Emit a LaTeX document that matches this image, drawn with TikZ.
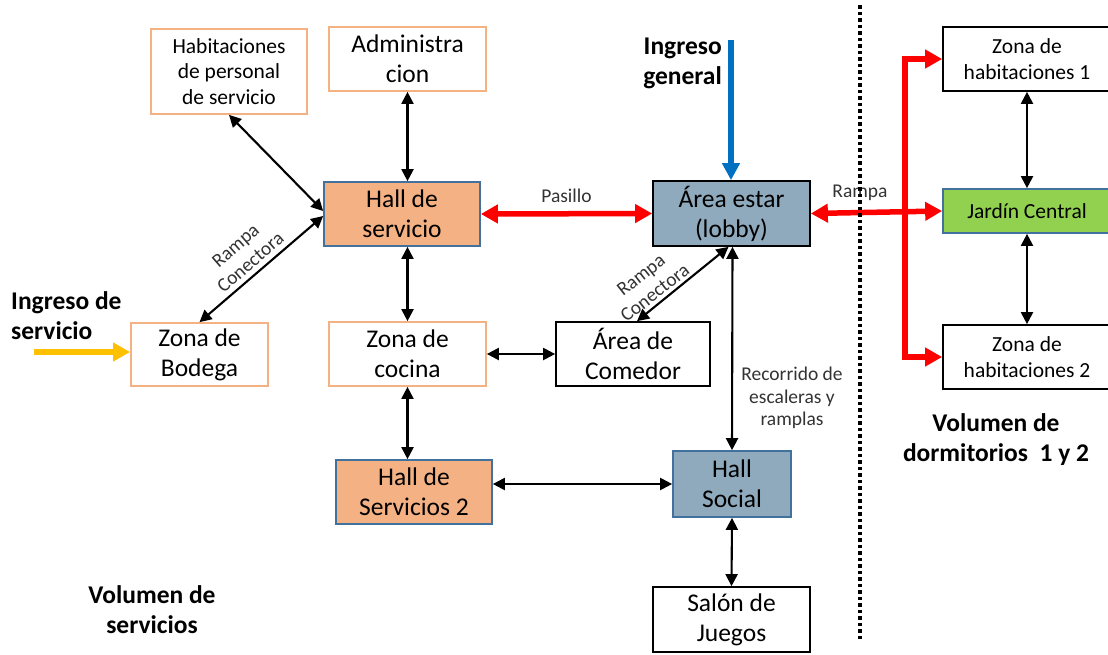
\documentclass[tikz,border=0pt]{standalone}
\usepackage{fontspec}
\setmainfont{Carlito}
\usetikzlibrary{arrows.meta,calc}
\definecolor{orangeb}{HTML}{F4B183}
\definecolor{orangef}{HTML}{F4B183}
\definecolor{blueb}{HTML}{41719C}
\definecolor{grayblue}{HTML}{8FAABD}
\definecolor{greenf}{HTML}{92D050}
\definecolor{arrblue}{HTML}{0070C0}
\definecolor{arryellow}{HTML}{FFC000}
\definecolor{lbl}{HTML}{333333}
\tikzset{
  bx/.style={draw, line width=1.7pt, inner sep=0pt, align=center, text=black},
  big/.style={font=\fontsize{25.5}{30}\selectfont},
  mid/.style={font=\fontsize{21.5}{25.5}\selectfont},
  orgbox/.style={bx, draw=orangeb, fill=white},
  blkbox/.style={bx, draw=black, fill=white},
  hallbox/.style={bx, draw=blueb, fill=orangef},
  lobbybox/.style={bx, draw=black, fill=grayblue},
  socialbox/.style={bx, draw=blueb, fill=grayblue},
  gardenbox/.style={bx, draw=blueb, fill=greenf},
  conn/.style={line width=2.1pt, {Triangle[length=12pt,width=12pt]}-{Triangle[length=12pt,width=12pt]}},
  redc/.style={draw=red, line width=5.5pt, line join=miter, {Triangle[length=17pt,width=18pt]}-{Triangle[length=17pt,width=18pt]}},
  bolds/.style={font=\fontsize{25.5}{30}\selectfont\bfseries, text=black, inner sep=0pt},
  smalllbl/.style={font=\fontsize{19.5}{22.5}\selectfont, text=lbl, inner sep=0pt, align=center}
}
\begin{document}
\begin{tikzpicture}[x=1pt,y=-1pt]
\useasboundingbox (0,0) rectangle (1108,654);

% boxes
\node[orgbox, mid, minimum width=156pt, minimum height=85pt] (hab) at (229,71.5) {Habitaciones\\de personal\\de servicio};
\node[orgbox, big, minimum width=157pt, minimum height=64pt] (admin) at (407.5,59) {Administra\\cion};
\node[hallbox, big, minimum width=156pt, minimum height=64pt] (hall) at (402,214) {Hall de\\servicio};
\node[lobbybox, big, minimum width=157pt, minimum height=65pt] (lobby) at (731.5,213.5) {Área estar\\(lobby)};
\node[blkbox, mid, minimum width=168pt, minimum height=64pt] (hab1) at (1027,59) {Zona de\\habitaciones 1};
\node[gardenbox, mid, minimum width=168pt, minimum height=44pt] (jardin) at (1027,211) {Jardín Central};
\node[blkbox, mid, minimum width=168pt, minimum height=64pt] (hab2) at (1027,357) {Zona de\\habitaciones 2};
\node[orgbox, big, minimum width=137pt, minimum height=63pt] (bodega) at (199.5,354.5) {Zona de\\Bodega};
\node[orgbox, big, minimum width=157pt, minimum height=64pt] (cocina) at (407.5,354) {Zona de\\cocina};
\node[blkbox, big, minimum width=154pt, minimum height=64pt] (comedor) at (633,354) {Área de\\Comedor};
\node[hallbox, big, minimum width=156pt, minimum height=64pt] (hs2) at (414,492) {Hall de\\Servicios 2};
\node[socialbox, big, minimum width=118pt, minimum height=66pt] (social) at (732,484) {Hall\\Social};
\node[blkbox, big, minimum width=157pt, minimum height=65pt] (salon) at (731.5,619.5) {Salón de\\Juegos};

% text labels
\node[bolds, anchor=east, align=right] (ingg) at (722,63) {Ingreso\\general};
\node[bolds, anchor=west, align=left] (ings) at (11,316) {Ingreso de\\servicio};
\node[bolds, align=center] (vols) at (152,610) {Volumen de\\servicios};
\node[bolds, align=center] (vold) at (996,440) {Volumen de\\dormitorios\ \ 1 y 2};

% entry arrows
\coordinate (bs) at (731,40);
\coordinate (ys) at (34,352);
\draw[draw=arrblue, line width=5.5pt, -{Triangle[length=17pt,width=17pt]}] (bs) -- (bs |- lobby.north);
\draw[draw=arryellow, line width=6pt, -{Triangle[length=17pt,width=18pt]}] (ys) -- (ys -| bodega.west);

% red connections
\draw[redc] (hall.east) -- (lobby.west) node[midway, above=8pt, smalllbl] (pas) {Pasillo};
\draw[redc] (lobby.east) -- (jardin.west);
\coordinate (rt) at (905,59);
\coordinate (rb) at (905,357);
\draw[redc] (hab1.west) -- (rt) -- (rb) -- (hab2.west);
\node[smalllbl] (ramp) at (860,193) {Rampa};

% black connections
\draw[conn] (hab.south) -- ([yshift=3pt]hall.west);
\draw[conn] ([yshift=-2pt]hall.west) -- (bodega.north);
\node[smalllbl, rotate=41] (rc1) at (243,254) {Rampa\\Conectora};
\draw[conn] (admin.south) -- (admin.south |- hall.north);
\draw[conn] (cocina.north |- hall.south) -- (cocina.north);
\draw[conn] (cocina.east) -- (comedor.west);
\draw[conn] (cocina.south) -- (cocina.south |- hs2.north);
\draw[conn] (social.west -| hs2.east) -- (social.west);
\draw[conn] ([xshift=-3pt]lobby.south) -- ([xshift=4pt]comedor.north);
\node[smalllbl, rotate=38] (rc2) at (648,284) {Rampa\\Conectora};
\draw[conn] ([xshift=1pt]lobby.south) -- (social.north);
\node[smalllbl] (rec) at (792,398) {Recorrido de\\escaleras y\\ramplas};
\draw[conn] (social.south) -- (salon.north);
\draw[conn] (hab1.south) -- (jardin.north);
\draw[conn] (jardin.south) -- (hab2.north);

% separator
\coordinate (d1) at (860,5);
\coordinate (d2) at (860,642);
\draw[line width=4pt, dash pattern=on 3.5pt off 3pt] (d1) -- (d2);
\end{tikzpicture}
\end{document}
